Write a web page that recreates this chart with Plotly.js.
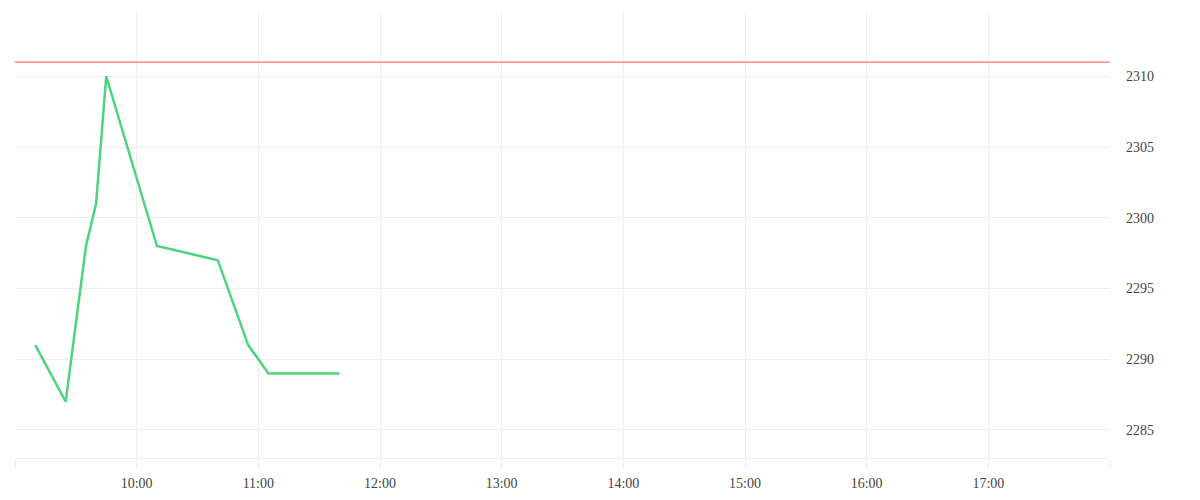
<!DOCTYPE html>
<html>
<head>
<meta charset="utf-8">
<script src="https://cdn.plot.ly/plotly-3.0.1.min.js"></script>
<style>
  html, body { margin: 0; padding: 0; background: #fff; }
  #graph { width: 1200px; height: 500px; }
</style>
</head>
<body>
<div id="graph"></div>
<script>
"use strict";

// --- veri ---
const gun = '2024-01-01';
const zamanlar = ['09:10', '09:25', '09:35', '09:40', '09:45', '10:10', '10:40', '10:55', '11:05', '11:40'];
const fiyatlar = [2291, 2287, 2298, 2301, 2310, 2298, 2297, 2291, 2289, 2289];
const referansSeviye = 2311;
const saatEtiketleri = ['09:00', '10:00', '11:00', '12:00', '13:00', '14:00', '15:00', '16:00', '17:00', '18:00'];
const saatYazilari = ['', '10:00', '11:00', '12:00', '13:00', '14:00', '15:00', '16:00', '17:00', ''];
const fiyatTikleri = [2285, 2290, 2295, 2300, 2305, 2310];
const fiyatAraligi = [2283.02, 2314.47];

const izgaraRengi = '#eeeeee';

function cizGrafik(divId) {
    const graphDiv = document.getElementById(divId);
    if (!graphDiv) {
        console.error(`Grafik div'i bulunamadı: ${divId}`);
        return;
    }

    const tamZaman = t => `${gun} ${t}`;

    const traces = [{
        x: zamanlar.map(tamZaman),
        y: fiyatlar,
        type: 'scatter',
        mode: 'lines',
        line: { color: '#4cd57b', width: 2.5 },
        hoverinfo: 'x+y',
        showlegend: false
    }];

    const layout = {
        width: 1200,
        height: 500,
        paper_bgcolor: '#ffffff',
        plot_bgcolor: '#ffffff',
        font: { family: '"Liberation Serif", serif', size: 14, color: '#444444' },
        margin: { l: 15, r: 90, t: 13, b: 42 },
        showlegend: false,
        xaxis: {
            type: 'date',
            range: [tamZaman(saatEtiketleri[0]), tamZaman(saatEtiketleri[saatEtiketleri.length - 1])],
            tickmode: 'array',
            tickvals: saatEtiketleri.map(tamZaman),
            ticktext: saatYazilari,
            showgrid: true,
            gridcolor: izgaraRengi,
            gridwidth: 1,
            ticks: 'outside',
            ticklen: 10,
            tickcolor: izgaraRengi,
            tickwidth: 1,
            ticklabelstandoff: 2,
            showline: true,
            linecolor: izgaraRengi,
            linewidth: 1,
            zeroline: false,
            fixedrange: true
        },
        yaxis: {
            side: 'right',
            range: fiyatAraligi,
            tickmode: 'array',
            tickvals: fiyatTikleri,
            showgrid: true,
            gridcolor: izgaraRengi,
            gridwidth: 1,
            ticks: '',
            ticklabelstandoff: 15,
            showline: false,
            zeroline: false,
            fixedrange: true
        },
        shapes: [{
            type: 'line',
            xref: 'paper', x0: 0, x1: 1,
            yref: 'y', y0: referansSeviye, y1: referansSeviye,
            line: { color: '#f5505a', width: 1 }
        }]
    };

    Plotly.newPlot(divId, traces, layout, { displayModeBar: false, staticPlot: true }).catch(err => {
        console.error("Grafik çizilirken hata:", err);
    });
}

cizGrafik('graph');
</script>
</body>
</html>
